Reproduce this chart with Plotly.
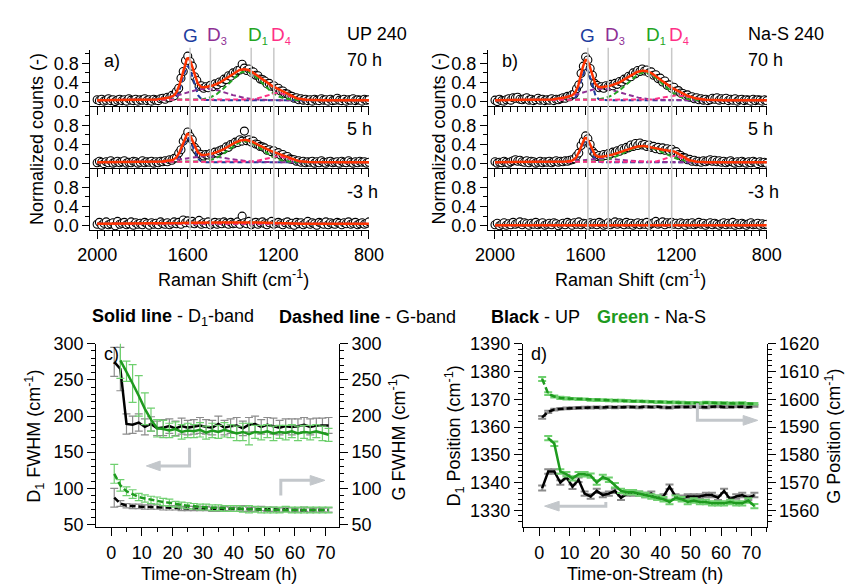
import numpy as np
import plotly.graph_objects as go

FONT = "Liberation Sans, Arial, sans-serif"
W, H = 856, 588


def px_x(px):
    return px / W


def px_y(py):
    return 1 - py / H


# ---------------- Raman spectra (normalized counts) ----------------
raman_shift = np.arange(2000, 799, -10)  # cm-1

up_70h = [0.04, 0.02, 0.05, 0.01, 0.03, 0.06, 0.02, 0.04, 0.00, 0.03,
          0.05, 0.02, 0.04, 0.01, 0.06, 0.03, 0.02, 0.05, 0.01, 0.04,
          0.03, 0.06, 0.02, 0.04, 0.01, 0.05, 0.03, 0.02, 0.06,
          0.07, 0.05, 0.09, 0.08, 0.13, 0.12, 0.21, 0.28, 0.49, 0.63,
          0.86, 0.95, 0.84, 0.74, 0.52, 0.44, 0.32, 0.33, 0.28, 0.31,
          0.29, 0.34, 0.31, 0.37, 0.35, 0.41, 0.40, 0.47, 0.46, 0.54,
          0.53, 0.60, 0.59, 0.65, 0.66, 0.78, 0.70, 0.65, 0.68, 0.61,
          0.62, 0.55, 0.54, 0.47, 0.46, 0.43, 0.37, 0.38, 0.32, 0.33,
          0.27, 0.28, 0.22, 0.22, 0.17, 0.16, 0.12, 0.11, 0.07, 0.08,
          0.04, 0.06, 0.03, 0.05, 0.02,
          0.04, 0.01, 0.05, 0.03, 0.02, 0.06, 0.03, 0.04, 0.01, 0.05,
          0.02, 0.03, 0.07, 0.03, 0.02, 0.05, 0.01, 0.04, 0.03, 0.06,
          0.02, 0.04, 0.03, 0.01, 0.05, 0.03, 0.04]

up_5h = [0.02, 0.05, 0.03, 0.00, 0.04, 0.02, 0.06, 0.01, 0.03, 0.05,
         0.02, 0.04, 0.06, 0.01, 0.03, 0.02, 0.05, 0.04, 0.01, 0.03,
         0.06, 0.02, 0.04, 0.03, 0.05, 0.01, 0.04, 0.02, 0.05,
         0.04, 0.06, 0.04, 0.08, 0.07, 0.11, 0.12, 0.22, 0.29, 0.47,
         0.55, 0.66, 0.57, 0.50, 0.34, 0.28, 0.20, 0.19, 0.16, 0.19,
         0.18, 0.21, 0.20, 0.24, 0.22, 0.27, 0.29, 0.30, 0.35, 0.34,
         0.40, 0.41, 0.45, 0.44, 0.50, 0.47, 0.68, 0.48, 0.50, 0.45,
         0.47, 0.41, 0.40, 0.36, 0.35, 0.33, 0.28, 0.29, 0.25, 0.27,
         0.21, 0.23, 0.18, 0.19, 0.14, 0.15, 0.10, 0.09, 0.08, 0.05,
         0.06, 0.03, 0.05, 0.02, 0.04,
         0.03, 0.05, 0.01, 0.04, 0.02, 0.06, 0.03, 0.01, 0.04, 0.05,
         0.02, 0.03, 0.04, 0.01, 0.05, 0.03, 0.02, 0.06, 0.03, 0.01,
         0.04, 0.02, 0.05, 0.03, 0.04, 0.01, 0.03]

up_m3h = [0.03, 0.07, 0.01, 0.05, 0.08, 0.02, 0.04, 0.06, 0.00, 0.09,
          0.03, 0.05, 0.07, 0.02, 0.04, 0.08, 0.01, 0.06, 0.03, 0.05,
          0.02, 0.07, 0.04, 0.01, 0.06, 0.03, 0.05, 0.02, 0.08, 0.04,
          0.03, 0.06, 0.02, 0.05, 0.08, 0.04, 0.07, 0.03, 0.12, 0.06,
          0.10, 0.05, 0.09, 0.04, 0.07, 0.11, 0.03, 0.06, 0.04, 0.08,
          0.02, 0.05, 0.07, 0.03, 0.06, 0.04, 0.08, 0.05, 0.03, 0.07,
          0.04, 0.05, 0.08, 0.03, 0.20, 0.06, 0.04, 0.09, 0.02, 0.05,
          0.07, 0.03, 0.06, 0.08, 0.04, 0.02, 0.06, 0.09, 0.03, 0.05,
          0.07, 0.04, 0.02, 0.06, 0.08, 0.03, 0.05, 0.01, 0.07, 0.04,
          0.06, 0.02, 0.05, 0.09, 0.03, 0.06, 0.04, 0.01, 0.07, 0.05,
          0.03, 0.08, 0.02, 0.06, 0.04, 0.03, 0.07, 0.05, 0.02, 0.06,
          0.04, 0.08, 0.03, 0.05, 0.07, 0.02, 0.04, 0.06, 0.03, 0.05,
          0.08]

nas_70h = [0.03, 0.00, 0.05, 0.02, 0.01, 0.04, 0.06, 0.03, 0.08, 0.07,
           0.09, 0.05, 0.04, 0.06, 0.08, 0.03, 0.05, 0.02, 0.04, 0.07,
           0.03, 0.05, 0.02, 0.04, 0.03, 0.06, 0.02, 0.05, 0.04,
           0.06, 0.08, 0.07, 0.11, 0.10, 0.14, 0.16, 0.27, 0.35, 0.59,
           0.74, 0.93, 0.87, 0.69, 0.55, 0.38, 0.34, 0.29, 0.31, 0.28,
           0.33, 0.31, 0.36, 0.33, 0.38, 0.36, 0.42, 0.41, 0.47, 0.46,
           0.53, 0.52, 0.60, 0.58, 0.65, 0.63, 0.68, 0.64, 0.66, 0.60,
           0.62, 0.55, 0.56, 0.48, 0.49, 0.41, 0.43, 0.34, 0.35, 0.28,
           0.30, 0.22, 0.23, 0.18, 0.17, 0.13, 0.14, 0.09, 0.10, 0.06,
           0.08, 0.04, 0.06, 0.03, 0.05,
           0.02, 0.04, 0.07, 0.05, 0.08, 0.03, 0.06, 0.04, 0.07, 0.02,
           0.05, 0.03, 0.06, 0.01, 0.04, 0.05, 0.02, 0.04, 0.03, 0.01,
           0.05, 0.02, 0.04, 0.03, 0.01, 0.04, 0.02]

nas_5h = [0.04, 0.01, 0.03, 0.02, 0.05, 0.03, 0.01, 0.04, 0.06, 0.08,
          0.05, 0.07, 0.04, 0.03, 0.06, 0.02, 0.05, 0.04, 0.01, 0.03,
          0.05, 0.02, 0.04, 0.03, 0.05, 0.02, 0.04, 0.06, 0.03,
          0.05, 0.04, 0.06, 0.05, 0.07, 0.08, 0.10, 0.16, 0.22, 0.38,
          0.47, 0.58, 0.52, 0.40, 0.26, 0.21, 0.15, 0.17, 0.14, 0.19,
          0.17, 0.21, 0.20, 0.24, 0.23, 0.27, 0.26, 0.31, 0.29, 0.34,
          0.33, 0.39, 0.36, 0.42, 0.38, 0.43, 0.39, 0.40, 0.36, 0.39,
          0.34, 0.36, 0.31, 0.34, 0.29, 0.33, 0.28, 0.31, 0.27, 0.30,
          0.24, 0.25, 0.19, 0.17, 0.13, 0.12, 0.08, 0.09, 0.05, 0.07,
          0.04, 0.05, 0.03, 0.06, 0.04,
          0.06, 0.08, 0.05, 0.07, 0.04, 0.06, 0.03, 0.05, 0.02, 0.04,
          0.06, 0.03, 0.01, 0.04, 0.02, 0.05, 0.03, 0.01, 0.04, 0.02,
          0.05, 0.03, 0.00, 0.04, 0.02, 0.03, 0.01]

nas_m3h = [0.02, 0.05, 0.00, 0.03, 0.06, 0.01, 0.04, 0.02, 0.07, 0.03,
           0.05, 0.08, 0.02, 0.06, 0.04, 0.01, 0.05, 0.03, 0.07, 0.02,
           0.04, 0.06, 0.01, 0.03, 0.05, 0.02, 0.06, 0.04, 0.00, 0.03,
           0.05, 0.02, 0.07, 0.04, 0.01, 0.06, 0.03, 0.08, 0.02, 0.05,
           0.04, 0.01, 0.06, 0.03, 0.05, 0.02, 0.07, 0.04, 0.01, 0.03,
           0.06, 0.02, 0.05, 0.08, 0.03, 0.06, 0.04, 0.02, 0.07, 0.03,
           0.05, 0.01, 0.04, 0.06, 0.02, 0.05, 0.03, 0.07, 0.01, 0.04,
           0.06, 0.09, 0.03, 0.05, 0.08, 0.02, 0.06, 0.04, 0.07, 0.03,
           0.05, 0.02, 0.06, 0.04, 0.01, 0.05, 0.03, 0.06, 0.02, 0.04,
           0.07, 0.03, 0.05, 0.01, 0.04, 0.06, 0.02, 0.05, 0.03, 0.01,
           0.04, 0.06, 0.02, 0.05, 0.03, 0.07, 0.01, 0.04, 0.02, 0.05,
           0.03, 0.01, 0.04, 0.06, 0.02, 0.03, 0.05, 0.01, 0.04, 0.02,
           0.03]

for spec in (up_70h, up_5h, up_m3h, nas_70h, nas_5h, nas_m3h):
    assert len(spec) == len(raman_shift), len(spec)

# Fitted bands, each [centre (cm-1), height, FWHM (cm-1)] in the order G, D3, D1, D4
up_70h_fit = [[1600, 0.71, 55], [1520, 0.24, 220], [1345, 0.60, 170], [1205, 0.15, 120]]
up_5h_fit = [[1600, 0.50, 55], [1520, 0.13, 220], [1345, 0.44, 170], [1205, 0.12, 120]]
up_m3h_fit = [[1600, 0.01, 55], [1520, 0.02, 220], [1345, 0.03, 170], [1205, 0.01, 120]]
nas_70h_fit = [[1598, 0.66, 50], [1530, 0.24, 220], [1340, 0.58, 180], [1200, 0.10, 130]]
nas_5h_fit = [[1600, 0.45, 50], [1530, 0.08, 200], [1345, 0.33, 200], [1210, 0.13, 90]]
nas_m3h_fit = [[1600, 0.005, 50], [1530, 0.01, 200], [1345, 0.01, 200], [1210, 0.005, 90]]
up_offsets = [0.04, 0.03, 0.03]      # -3 h, 5 h, 70 h
nas_offsets = [0.01, 0.03, 0.03]

SUB = "<sub><span style='font-size:11px'>%s</span></sub>"
band_labels = ["G", "D" + SUB % "3", "D" + SUB % "1", "D" + SUB % "4"]
band_marks = [1590, 1500, 1320, 1220]   # cm-1, grey guide lines
time_labels = ["-3 h", "5 h", "70 h"]

# ---------------- time-on-stream results ----------------
tos_hours = [1, 3, 5, 7, 9, 11, 13, 15, 17, 19, 21, 23, 25, 27, 29, 31, 33, 35,
             37, 39, 41, 43, 45, 47, 49, 51, 53, 55, 57, 59, 61, 63, 65, 67, 69, 71]

up_d1_fwhm = [275, 265, 189, 188, 191, 185, 189, 183, 184, 186, 183, 186, 184, 185, 187, 185, 184, 189,
              184, 186, 187, 183, 188, 189, 185, 188, 186, 184, 186, 185, 186, 188, 185, 187, 187, 187]
up_d1_fwhm_err = [20, 30, 14, 12, 12, 11, 10, 10, 11, 10, 10, 11, 10, 10, 11, 10, 10, 11,
                  10, 10, 11, 10, 10, 11, 10, 10, 11, 10, 10, 11, 10, 10, 11, 10, 10, 11]
nas_d1_fwhm = [None, 277, 262, 245, 228, 210, 195, 183, 182, 180, 182, 178, 180, 179, 181, 177, 180, 178,
               181, 179, 176, 178, 175, 178, 177, 179, 176, 178, 177, 179, 176, 178, 177, 179, 176, 174]
nas_d1_fwhm_err = [0, 25, 14, 26, 28, 22, 16, 12, 12, 10, 10, 10, 10, 9, 10, 9, 10, 9,
                   10, 9, 10, 12, 15, 9, 10, 9, 10, 9, 10, 9, 10, 9, 10, 9, 10, 9]
up_g_fwhm = [87, 79, 76, 75, 75, 74, 74, 74, 73, 73, 73, 72, 72, 72, 72, 72, 71, 71,
             72, 71, 71, 72, 71, 71, 72, 71, 71, 70, 71, 70, 70, 71, 70, 70, 70, 70]
up_g_fwhm_err = [13, 4, 3, 3, 3, 3, 3, 3, 3, 3, 3, 3, 3, 3, 3, 3, 3, 3,
                 3, 3, 3, 4, 3, 3, 3, 3, 3, 3, 3, 3, 3, 3, 3, 3, 3, 3]
nas_g_fwhm = [120, 104, 96, 92, 88, 86, 84, 83, 81, 80, 78, 77, 76, 75, 74, 74, 73, 73,
              72, 72, 72, 71, 71, 71, 70, 70, 70, 70, 71, 70, 70, 70, 70, 70, 70, 70]
nas_g_fwhm_err = [13, 8, 6, 6, 5, 5, 5, 5, 5, 5, 4, 4, 4, 4, 4, 4, 4, 4,
                  4, 4, 4, 4, 5, 4, 4, 4, 4, 4, 4, 4, 4, 4, 4, 4, 4, 4]

up_d1_pos = [1338, 1344, 1344, 1340, 1342, 1338.5, 1341, 1336, 1335, 1337, 1335.5, 1336,
             1337, 1334.5, 1336, 1336, 1336, 1335.5, 1336, 1334.5, 1335, 1338.5, 1335, 1334.5,
             1335, 1335, 1335, 1335.5, 1335.5, 1334.5, 1337, 1334, 1335, 1335.5, 1334.5, 1335.5]
up_d1_pos_err = [0.9, 0.8, 0.8, 0.8, 0.8, 0.8, 0.8, 0.8, 0.8, 0.8, 0.8, 0.8,
                 0.8, 0.8, 0.8, 0.8, 0.8, 0.8, 0.8, 0.8, 0.8, 0.8, 0.8, 0.8,
                 0.8, 0.8, 0.8, 0.8, 0.8, 0.8, 0.8, 0.8, 0.8, 0.8, 0.8, 0.8]
nas_d1_pos = [None, 1356, 1354, 1344, 1343, 1341.5, 1343, 1343, 1342.5, 1340, 1342, 1341,
              1339, 1337, 1336.5, 1336.5, 1336, 1335.5, 1335, 1334.5, 1334, 1333, 1334.5, 1334,
              1333, 1333.5, 1333, 1333, 1332.5, 1332.5, 1332.5, 1333, 1332.5, 1332.5, 1333.5, 1331.5]
nas_d1_pos_err = [0, 0.8, 0.8, 0.8, 0.8, 0.8, 0.8, 0.8, 0.8, 0.8, 0.8, 0.8,
                  0.8, 0.8, 0.8, 0.8, 0.8, 0.8, 0.8, 0.8, 0.8, 0.8, 0.8, 0.8,
                  0.8, 0.8, 0.8, 0.8, 0.8, 0.8, 0.8, 0.8, 0.8, 0.8, 0.8, 0.8]
up_g_pos = [1593.5, 1595.5, 1596.3, 1596.6, 1596.7, 1596.8, 1596.9, 1597.0, 1597.0, 1597.1, 1597.0, 1597.2,
            1597.1, 1597.2, 1597.3, 1597.2, 1597.1, 1597.3, 1597.2, 1597.3, 1597.1, 1597.0, 1597.2, 1597.3,
            1597.2, 1597.3, 1597.2, 1597.1, 1597.3, 1597.4, 1597.2, 1597.3, 1597.4, 1597.3, 1597.2, 1597.6]
up_g_pos_err = [0.5, 0.4, 0.3, 0.3, 0.3, 0.3, 0.3, 0.3, 0.3, 0.3, 0.3, 0.3,
                0.3, 0.3, 0.3, 0.3, 0.3, 0.3, 0.3, 0.3, 0.3, 0.3, 0.3, 0.3,
                0.3, 0.3, 0.3, 0.3, 0.3, 0.3, 0.3, 0.3, 0.3, 0.3, 0.3, 0.3]
nas_g_pos = [1607.3, 1602.0, 1601.0, 1600.5, 1600.3, 1600.2, 1600.0, 1600.0, 1599.8, 1599.7, 1599.7, 1599.6,
             1599.5, 1599.5, 1599.4, 1599.3, 1599.3, 1599.2, 1599.1, 1599.0, 1599.0, 1598.9, 1598.9, 1598.8,
             1598.7, 1598.7, 1598.6, 1598.8, 1598.7, 1598.6, 1598.6, 1598.5, 1598.5, 1598.6, 1598.4, 1598.4]
nas_g_pos_err = [0.7, 0.5, 0.4, 0.4, 0.4, 0.3, 0.3, 0.3, 0.3, 0.3, 0.3, 0.3,
                 0.3, 0.3, 0.3, 0.3, 0.3, 0.3, 0.3, 0.3, 0.3, 0.3, 0.3, 0.3,
                 0.3, 0.3, 0.3, 0.3, 0.3, 0.3, 0.3, 0.3, 0.3, 0.3, 0.3, 0.3]

# ---------------- styling ----------------
BLACK = "#000000"
GREEN = "#1e9a1e"
GREY_ERR = "#8c8c8c"
GREEN_ERR = "#6fd06f"
ARROW = "#c3c7cb"
FIT_RED = "#ff3300"
BAND_COLORS = ["#1d3c9e", "#8e2f94", "#22a522", "#ff2f86"]
TICKFONT = dict(family=FONT, size=18, color="black")


def gauss_band(x, centre, height, fwhm):
    return height * np.exp(-4 * np.log(2) * ((x - centre) / fwhm) ** 2)


def axis_style(**kw):
    base = dict(showline=True, linecolor="black", linewidth=1, ticks="outside",
                tickcolor="black", tickwidth=1, showgrid=False, zeroline=False,
                tickfont=TICKFONT, fixedrange=True)
    base.update(kw)
    return base


def minor_ticks(**kw):
    base = dict(ticklen=4, ticks="outside", tickcolor="black", tickwidth=1)
    base.update(kw)
    return base


fig = go.Figure()
layout = dict(width=W, height=H, margin=dict(l=0, r=0, t=0, b=0),
              paper_bgcolor="white", plot_bgcolor="rgba(0,0,0,0)",
              showlegend=False, font=dict(family=FONT, size=18, color="black"))
annotations = []
shapes = []

shift_fine = np.linspace(2000, 800, 601)
U = 49.4                              # px per normalized unit
zero_px = [222.5, 158.5, 94.5]        # -3 h, 5 h, 70 h
major_shift = [2000, 1600, 1200, 800]
minor_shift = [2000 - i * 200 / 6 for i in range(37) if i % 12]

panels = [
    dict(yaxis_px=80, px2000=87.0, px800=368.0, spectra=[up_m3h, up_5h, up_70h],
         fits=[up_m3h_fit, up_5h_fit, up_70h_fit], offsets=up_offsets,
         title="UP 240", title_px=343, tag="a)", ytitle_px=25),
    dict(yaxis_px=491, px2000=498.3, px800=779.3, spectra=[nas_m3h, nas_5h, nas_70h],
         fits=[nas_m3h_fit, nas_5h_fit, nas_70h_fit], offsets=nas_offsets,
         title="Na-S 240", title_px=758, tag="b)", ytitle_px=440),
]

n = 0
for panel in panels:
    scale = (panel["px800"] - panel["px2000"]) / 1200.0
    left_shift = 2000 + (panel["px2000"] - panel["yaxis_px"]) / scale
    first_x = None
    for k in range(3):
        n += 1
        xid = "x" if n == 1 else f"x{n}"
        yid = "y" if n == 1 else f"y{n}"
        if first_x is None:
            first_x = xid
        bottom = zero_px[k] + 0.1 * U
        top_val = 1.08 if k == 2 else 1.2
        top = zero_px[k] - top_val * U
        layout["xaxis" if n == 1 else f"xaxis{n}"] = axis_style(
            domain=[px_x(panel["yaxis_px"]), px_x(panel["px800"])],
            range=[left_shift, 800], anchor=yid, tickmode="array",
            tickvals=major_shift, ticklen=8, showticklabels=(k == 0),
            minor=minor_ticks(tickmode="array", tickvals=minor_shift, ticklen=5))
        layout["yaxis" if n == 1 else f"yaxis{n}"] = axis_style(
            domain=[px_y(bottom), px_y(top)], range=[-0.1, top_val], anchor=xid,
            tickmode="array", tickvals=[0, 0.4, 0.8], ticktext=["0.0", "0.4", "0.8"],
            ticklen=7,
            minor=minor_ticks(tickmode="array", tickvals=[0.2, 0.6, 1.0]))

        spec = panel["spectra"][k]
        fit = panel["fits"][k]
        off = panel["offsets"][k]
        fig.add_trace(go.Scatter(
            x=raman_shift, y=spec, mode="markers", xaxis=xid, yaxis=yid,
            marker=dict(symbol="circle", size=8, color="white",
                        line=dict(color="black", width=1.1))))
        total = np.full_like(shift_fine, off)
        for (c, h, w), col in zip(fit, BAND_COLORS):
            comp = gauss_band(shift_fine, c, h, w)
            total = total + comp
            fig.add_trace(go.Scatter(
                x=shift_fine, y=off + comp, mode="lines", xaxis=xid, yaxis=yid,
                line=dict(color=col, width=2, dash="5px,3px")))
        fig.add_trace(go.Scatter(
            x=shift_fine, y=total, mode="lines", xaxis=xid, yaxis=yid,
            line=dict(color=FIT_RED, width=2.5)))

        annotations.append(dict(text=time_labels[k], x=px_x(panel["title_px"]),
                                y=px_y([188, 123, 52][k]), xanchor="left"))

    # grey guide lines and band names
    for pos, lab, col in zip(band_marks, band_labels, BAND_COLORS):
        shapes.append(dict(type="line", xref=first_x, yref="paper", x0=pos, x1=pos,
                           y0=px_y(228), y1=px_y(39), layer="above",
                           line=dict(color="#c8c8c8", width=1.5)))
        annotations.append(dict(text=lab, x=pos, y=px_y(26), xref=first_x,
                                xanchor="center" if lab == "G" else "left",
                                xshift=0 if lab == "G" else -5,
                                font=dict(size=19, color=col)))
    centre_px = (panel["px2000"] + panel["px800"]) / 2
    annotations += [
        dict(text=panel["title"], x=px_x(panel["title_px"]), y=px_y(25), xanchor="left"),
        dict(text=panel["tag"], x=px_x(panel["px2000"] + 5), y=px_y(53), xanchor="left"),
        dict(text="Normalized counts (-)", x=px_x(panel["ytitle_px"]), y=px_y(133),
             textangle=-90),
        dict(text="Raman Shift (cm<sup>-1</sup>)", x=px_x(centre_px), y=px_y(277)),
    ]

# ---------------- panel c: FWHM ----------------
c_bottom, c_top = 533.0, 344.3
layout["xaxis7"] = axis_style(domain=[px_x(86), px_x(337)], range=[-4.9, 74.4], anchor="y7",
                              tickmode="linear", tick0=0, dtick=10, ticklen=8,
                              ticklabelstandoff=2, minor=minor_ticks(dtick=5, tick0=0))
layout["yaxis7"] = axis_style(domain=[px_y(c_bottom), px_y(c_top)], range=[46.9, 300],
                              anchor="x7", tickmode="array",
                              tickvals=[50, 100, 150, 200, 250, 300], ticklen=8,
                              minor=minor_ticks(dtick=10, tick0=0))
layout["yaxis8"] = axis_style(domain=[px_y(c_bottom), px_y(c_top)], range=[46.9, 300],
                              anchor="x7", overlaying="y7", side="right", tickmode="array",
                              tickvals=[50, 100, 150, 200, 250, 300], ticklen=8,
                              minor=minor_ticks(dtick=10, tick0=0))

# ---------------- panel d: positions ----------------
layout["xaxis8"] = axis_style(domain=[px_x(527), px_x(779)], range=[-5.4, 75], anchor="y9",
                              tickmode="linear", tick0=0, dtick=10, ticklen=8,
                              ticklabelstandoff=2, minor=minor_ticks(dtick=5, tick0=0))
layout["yaxis9"] = axis_style(domain=[px_y(c_bottom), px_y(c_top)], range=[1324.1, 1390],
                              anchor="x8", tickmode="linear", tick0=1330, dtick=10, ticklen=8,
                              minor=minor_ticks(dtick=2, tick0=1330))
layout["yaxis10"] = axis_style(domain=[px_y(c_bottom), px_y(c_top)], range=[1554.1, 1620],
                               anchor="x8", overlaying="y9", side="right", tickmode="linear",
                               tick0=1560, dtick=10, ticklen=8,
                               minor=minor_ticks(dtick=2, tick0=1560))


def series(xa, ya, y, err, color, err_color, dash=None, err_thick=1.2):
    return go.Scatter(x=tos_hours, y=y, mode="lines", xaxis=xa, yaxis=ya,
                      line=dict(color=color, width=2.5, dash=dash),
                      error_y=dict(type="data", array=err, color=err_color,
                                   thickness=err_thick, width=4),
                      connectgaps=False)


DASH = "6px,3px"
fig.add_trace(series("x7", "y8", up_g_fwhm, up_g_fwhm_err, BLACK, GREY_ERR, DASH))
fig.add_trace(series("x7", "y7", up_d1_fwhm, up_d1_fwhm_err, BLACK, GREY_ERR))
fig.add_trace(series("x7", "y8", nas_g_fwhm, nas_g_fwhm_err, GREEN, GREEN_ERR, DASH))
fig.add_trace(series("x7", "y7", nas_d1_fwhm, nas_d1_fwhm_err, GREEN, GREEN_ERR))

fig.add_trace(series("x8", "y10", up_g_pos, up_g_pos_err, BLACK, GREY_ERR, DASH, 2))
fig.add_trace(series("x8", "y9", up_d1_pos, up_d1_pos_err, BLACK, GREY_ERR, None, 2))
fig.add_trace(series("x8", "y10", nas_g_pos, nas_g_pos_err, GREEN, GREEN_ERR, DASH, 2))
fig.add_trace(series("x8", "y9", nas_d1_pos, nas_d1_pos_err, GREEN, GREEN_ERR, None, 2))


# grey axis-pointer arrows
def arrow(xref, yref, path, head):
    shapes.append(dict(type="path", xref=xref, yref=yref, path=path,
                       line=dict(color=ARROW, width=3)))
    shapes.append(dict(type="path", xref=xref, yref=yref, path=head,
                       fillcolor=ARROW, line=dict(color=ARROW, width=1)))


arrow("x7", "y7", "M 25.6,156 L 25.6,131 L 16,131", "M 16,124.3 L 11.5,131 L 16,137.7 Z")
arrow("x7", "y8", "M 55.4,90 L 55.4,111 L 65,111", "M 65,104.3 L 69.8,111 L 65,117.7 Z")
arrow("x8", "y10", "M 52.2,1598.6 L 52.2,1592.4 L 67.3,1592.4",
      "M 67.3,1590.65 L 72.1,1592.4 L 67.3,1594.15 Z")
arrow("x8", "y9", "M 22,1333 L 22,1331.5 L 6.6,1331.5",
      "M 6.6,1329.75 L 1.8,1331.5 L 6.6,1333.25 Z")

annotations += [
    dict(text="<b>Solid line</b> - D<sub>1</sub>-band", x=px_x(165), y=px_y(317)),
    dict(text="<b>Dashed line</b> - G-band", x=px_x(366), y=px_y(317)),
    dict(text="<b>Black</b> - UP", x=px_x(540), y=px_y(317)),
    dict(text="<b><span style='color:%s'>Green</span></b> - Na-S" % GREEN, x=px_x(660), y=px_y(317)),
    dict(text="c)", x=px_x(92), y=px_y(355), xanchor="left"),
    dict(text="d)", x=px_x(533), y=px_y(355), xanchor="left"),
    dict(text="D<sub>1</sub> FWHM (cm<sup>-1</sup>)", x=px_x(22), y=px_y(440), textangle=-90),
    dict(text="G FWHM (cm<sup>-1</sup>)", x=px_x(398), y=px_y(440), textangle=-90),
    dict(text="D<sub>1</sub> Position (cm<sup>-1</sup>)", x=px_x(456), y=px_y(440), textangle=-90),
    dict(text="G Position (cm<sup>-1</sup>)", x=px_x(848), y=px_y(440), textangle=-90),
    dict(text="Time-on-Stream (h)", x=px_x(213), y=px_y(578), yshift=-4),
    dict(text="Time-on-Stream (h)", x=px_x(653), y=px_y(578), yshift=-4),
]
for a in annotations:
    a.setdefault("xref", "paper")
    a.setdefault("yref", "paper")
    a.setdefault("xanchor", "center")
    a.setdefault("yanchor", "middle")
    a.setdefault("showarrow", False)

layout["annotations"] = annotations
layout["shapes"] = shapes
fig.update_layout(**layout)
fig.write_html("out.html", config={"displayModeBar": False})
